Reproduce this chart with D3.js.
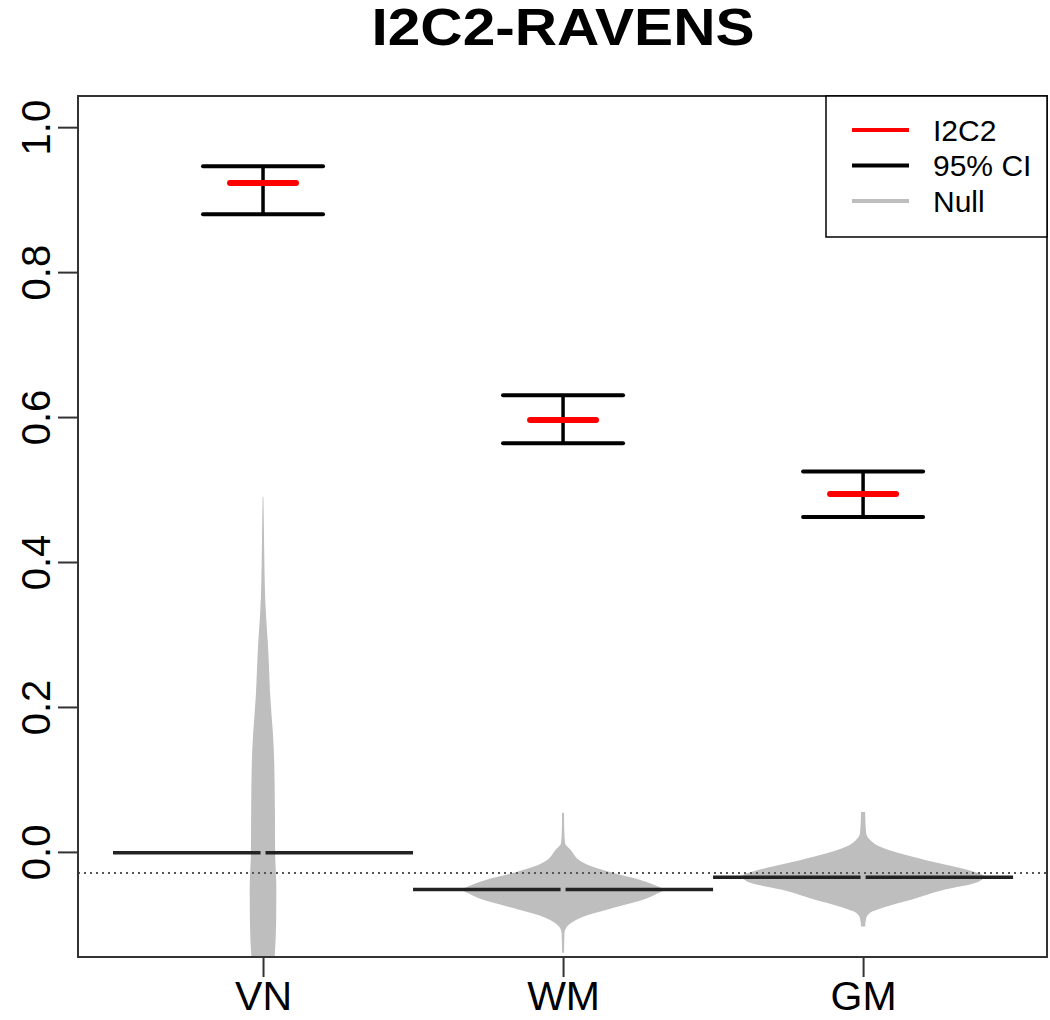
<!DOCTYPE html>
<html><head><meta charset="utf-8">
<script src="https://cdn.jsdelivr.net/npm/d3@7"></script>
<style>body{margin:0;background:#fff}svg{display:block}text{font-family:"Liberation Sans",Arial,sans-serif}</style>
</head><body><svg id="c" width="1050" height="1020"></svg>
<script>
const categories = ["VN", "WM", "GM"];
const i2c2 = [0.923, 0.596, 0.494];
const ciLower = [0.880, 0.564, 0.462];
const ciUpper = [0.946, 0.630, 0.525];
const nullCenter = [-0.001, -0.052, -0.035];
const overallMean = -0.029;
const yTicks = [0, 0.2, 0.4, 0.6, 0.8, 1.0];
const legendLabels = ["I2C2", "95% CI", "Null"];
// null densities: [value, relative density]
const densVN = [[0.49,0.003],[0.45,0.007],[0.40,0.011],[0.35,0.018],[0.32,0.027],[0.29,0.039],[0.26,0.048],[0.22,0.058],[0.19,0.070],[0.16,0.083],[0.12,0.093],[0.06,0.098],[0.00,0.100],[-0.05,0.110],[-0.10,0.108],[-0.16,0.090]];
const densWM = [[0.054,0.008],[0.030,0.010],[0.012,0.017],[0.003,0.062],[-0.011,0.132],[-0.018,0.207],[-0.025,0.331],[-0.032,0.479],[-0.039,0.645],[-0.046,0.760],[-0.052,0.830],[-0.059,0.760],[-0.066,0.661],[-0.073,0.512],[-0.080,0.355],[-0.087,0.207],[-0.094,0.107],[-0.103,0.033],[-0.112,0.012],[-0.139,0.008]];
const densGM = [[0.055,0.017],[0.026,0.025],[0.017,0.055],[0.010,0.107],[0.003,0.207],[-0.004,0.347],[-0.011,0.512],[-0.018,0.694],[-0.025,0.868],[-0.034,1.0],[-0.043,0.926],[-0.052,0.678],[-0.059,0.529],[-0.066,0.397],[-0.076,0.182],[-0.084,0.058],[-0.092,0.025],[-0.103,0.017]];
const densities = [densVN, densWM, densGM];

const L = 78, R = 1047, T = 96, B = 957;
const svg = d3.select("#c");
const x = d3.scaleLinear().domain([0.3833, 3.613]).range([L, R]);
const y = d3.scaleLinear().domain([-0.145, 1.043]).range([B, T]);
const w = d3.scaleLinear().domain([0, 1]).range([0, 121]);

svg.append("defs").append("clipPath").attr("id","clip").append("rect")
  .attr("x", L).attr("y", T).attr("width", R-L).attr("height", B-T);
const g = svg.append("g").attr("clip-path","url(#clip)");

// beans
categories.forEach((c,i) => {
  const cx = x(i+1);
  const area = d3.area()
    .y(d => y(d[0]))
    .x0(d => cx - w(d[1]))
    .x1(d => cx + w(d[1]))
    .curve(d3.curveMonotoneY);
  g.append("path").datum(densities[i]).attr("d", area).attr("fill", "#bebebe");
});

// overall dotted line
g.append("line").attr("x1", L).attr("x2", R).attr("y1", y(overallMean)).attr("y2", y(overallMean))
  .attr("stroke", "#555").attr("stroke-width", 2).attr("stroke-dasharray", "2,4");

// bean lines
categories.forEach((c,i) => {
  const cx = x(i+1);
  [[x(i+0.5), cx - 2.5], [cx + 2.5, x(i+1.5)]].forEach(([a,b]) => {
    g.append("line").attr("x1", a).attr("x2", b).attr("y1", y(nullCenter[i])).attr("y2", y(nullCenter[i]))
      .attr("stroke", "#222").attr("stroke-width", 3.5);
  });
});

// CI + I2C2
categories.forEach((c,i) => {
  const cx = x(i+1);
  g.append("line").attr("x1", cx).attr("x2", cx).attr("y1", y(ciUpper[i])).attr("y2", y(ciLower[i]))
    .attr("stroke", "#000").attr("stroke-width", 3.5);
  [ciUpper[i], ciLower[i]].forEach(v => {
    g.append("line").attr("x1", x(i+0.8)).attr("x2", x(i+1.2)).attr("y1", y(v)).attr("y2", y(v))
      .attr("stroke", "#000").attr("stroke-width", 4).attr("stroke-linecap","round");
  });
  g.append("line").attr("x1", x(i+0.89)).attr("x2", x(i+1.11)).attr("y1", y(i2c2[i])).attr("y2", y(i2c2[i]))
    .attr("stroke", "#ff0000").attr("stroke-width", 6).attr("stroke-linecap","round");
});

// box
svg.append("rect").attr("x", L).attr("y", T).attr("width", R-L).attr("height", B-T)
  .attr("fill", "none").attr("stroke", "#333").attr("stroke-width", 2);

// y axis
const ya = svg.append("g").attr("transform", `translate(${L},0)`)
  .call(d3.axisLeft(y).tickValues(yTicks).tickFormat(d3.format(".1f")).tickSize(20).tickPadding(25));
ya.select(".domain").remove();
ya.selectAll(".tick line").attr("stroke", "#333").attr("stroke-width", 2);
ya.selectAll(".tick text").attr("font-size", 40).attr("fill", "#000")
  .attr("x", null).attr("dy", null)
  .attr("transform", "translate(-28,0) rotate(-90)")
  .attr("text-anchor", "middle").attr("dy", "0");

// x axis
const xa = svg.append("g").attr("transform", `translate(0,${B})`)
  .call(d3.axisBottom(x).tickValues([1,2,3]).tickFormat((d,i) => categories[i]).tickSize(20));
xa.select(".domain").remove();
xa.selectAll(".tick line").attr("stroke", "#333").attr("stroke-width", 2);
xa.selectAll(".tick text").attr("font-size", 41).attr("fill", "#000").attr("y", 53).attr("dy", "0");

// title
svg.append("text").attr("x", 563).attr("y", 45).attr("text-anchor", "middle")
  .attr("font-size", 51).attr("font-weight", "bold")
  .attr("textLength", 383).attr("lengthAdjust", "spacingAndGlyphs").text("I2C2-RAVENS");

// legend
const lg = svg.append("g");
lg.append("rect").attr("x", 826).attr("y", T).attr("width", R-826).attr("height", 141)
  .attr("fill", "#fff").attr("stroke", "#000").attr("stroke-width", 1.5);
const legColors = ["#ff0000", "#000000", "#bebebe"];
legendLabels.forEach((t,i) => {
  const yy = 130 + i*35.5;
  lg.append("line").attr("x1", 852).attr("x2", 909).attr("y1", yy).attr("y2", yy)
    .attr("stroke", legColors[i]).attr("stroke-width", 4);
  lg.append("text").attr("x", 933).attr("y", yy).attr("dy", "0.36em").attr("font-size", 30).text(t);
});
</script></body></html>
